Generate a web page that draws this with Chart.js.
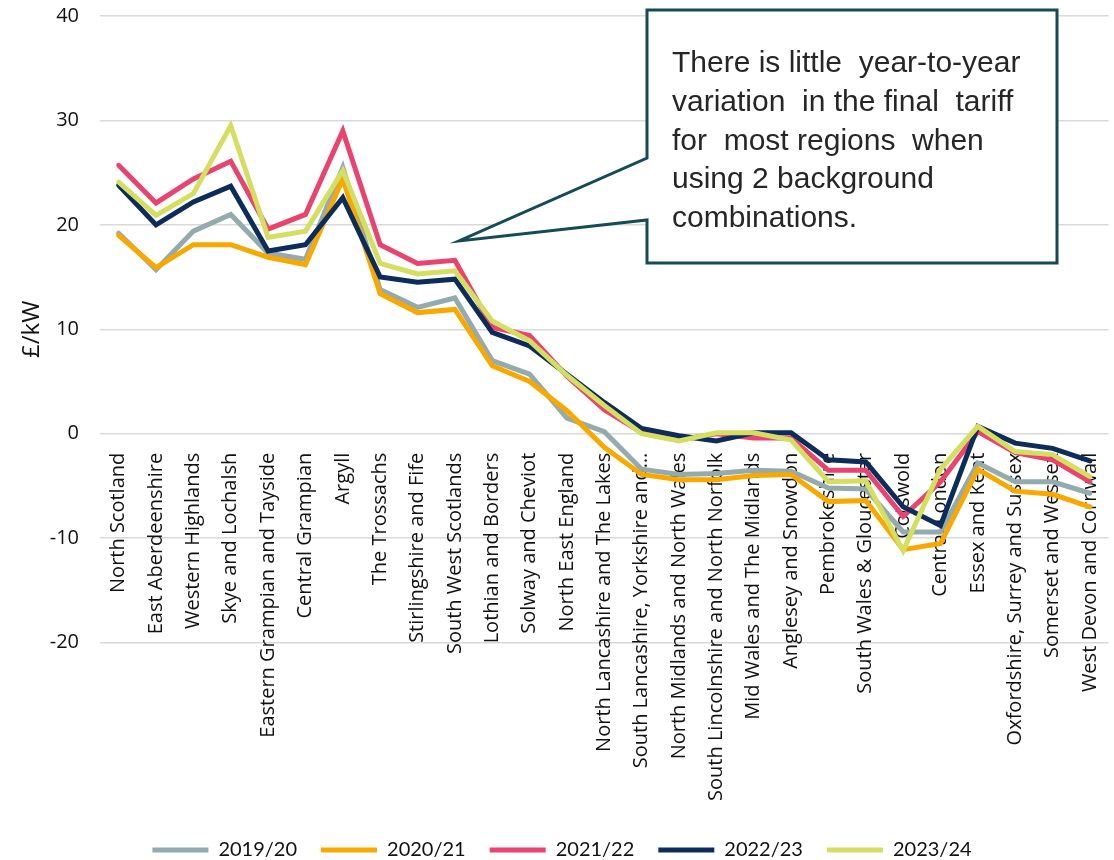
<!DOCTYPE html>
<html>
<head>
<meta charset="utf-8">
<script src="https://cdn.jsdelivr.net/npm/chart.js@4"></script>
<style>
  html, body { margin: 0; padding: 0; background: #fff; }
  #wrap { width: 1114px; height: 860px; }
</style>
</head>
<body>
<div id="wrap"><canvas id="tariffChart"></canvas></div>
<script>
// regions along the x axis
const regions = [
    "North Scotland", "East Aberdeenshire", "Western Highlands", "Skye and Lochalsh",
    "Eastern Grampian and Tayside", "Central Grampian", "Argyll", "The Trossachs",
    "Stirlingshire and Fife", "South West Scotlands", "Lothian and Borders",
    "Solway and Cheviot", "North East England", "North Lancashire and The Lakes",
    "South Lancashire, Yorkshire and\u2026", "North Midlands and North Wales",
    "South Lincolnshire and North Norfolk", "Mid Wales and The Midlands",
    "Anglesey and Snowdon", "Pembrokeshire", "South Wales & Gloucester", "Cotswold",
    "Central London", "Essex and Kent", "Oxfordshire, Surrey and Sussex",
    "Somerset and Wessex", "West Devon and Cornwall"
];

// £/kW per region, one array per charging year
const y2019 = [19.2, 15.7, 19.4, 21.0, 17.3, 16.7, 25.5, 13.8, 12.1, 13.0, 7.0, 5.7, 1.5, 0.2,
    -3.4, -3.9, -3.8, -3.5, -3.6, -5.2, -5.3, -9.4, -9.4, -2.8, -4.6, -4.6, -5.7];
const y2020 = [19.0, 15.9, 18.1, 18.1, 16.9, 16.2, 24.4, 13.4, 11.6, 11.9, 6.5, 5.0, 2.2, -1.3,
    -3.9, -4.4, -4.4, -4.0, -3.9, -6.5, -6.4, -11.1, -10.5, -3.4, -5.5, -5.8, -7.0];
const y2021 = [25.7, 22.1, 24.4, 26.1, 19.6, 21.0, 29.0, 18.1, 16.3, 16.6, 10.2, 9.4, 5.5, 2.3,
    0.1, -0.6, 0.0, -0.4, -0.4, -3.5, -3.5, -7.9, -4.6, 0.2, -1.8, -2.5, -4.6];
const y2022 = [23.8, 20.0, 22.2, 23.7, 17.5, 18.1, 22.6, 15.0, 14.5, 14.8, 9.7, 8.4, 5.7, 3.0,
    0.5, -0.2, -0.7, 0.1, 0.1, -2.5, -2.7, -7.0, -8.8, 0.7, -0.9, -1.4, -2.6];
const y2023 = [24.1, 20.9, 23.0, 29.5, 18.8, 19.4, 25.2, 16.3, 15.3, 15.6, 10.8, 8.9, 5.6, 2.7,
    0.0, -0.7, 0.1, 0.1, -0.6, -4.6, -4.5, -11.2, -3.4, 0.7, -1.7, -2.0, -4.1];

const yearLabels = ["2019/20", "2020/21", "2021/22", "2022/23", "2023/24"];
const yearColours = ["#93aaae", "#f9a800", "#e9436f", "#0c2d5c", "#d4de5f"];
const yearValues = [y2019, y2020, y2021, y2022, y2023];

const yTicks = [-20, -10, 0, 10, 20, 30, 40];

const noteLines = [
    "There is little  year-to-year",
    "variation  in the final  tariff",
    "for  most regions  when",
    "using 2 background",
    "combinations."
];

// callout box drawn on top of the chart
const calloutPlugin = {
    id: "callout",
    afterDraw(chart) {
        const ctx = chart.ctx;
        const left = 647, top = 10, right = 1057, bottom = 263;
        ctx.save();
        ctx.beginPath();
        ctx.moveTo(left, top);
        ctx.lineTo(right, top);
        ctx.lineTo(right, bottom);
        ctx.lineTo(left, bottom);
        ctx.lineTo(left, 220);
        ctx.lineTo(459, 241);
        ctx.lineTo(left, 158);
        ctx.closePath();
        ctx.fillStyle = "#ffffff";
        ctx.fill();
        ctx.lineWidth = 3;
        ctx.lineJoin = "miter";
        ctx.strokeStyle = "#154b57";
        ctx.stroke();

        ctx.fillStyle = "#262626";
        ctx.font = "30px 'Liberation Sans', Arial, sans-serif";
        ctx.textBaseline = "alphabetic";
        ctx.textAlign = "left";
        noteLines.forEach((line, i) => {
            ctx.fillText(line, 672, 72 + i * 38.8);
        });
        ctx.restore();
    }
};

const ctx = document.getElementById("tariffChart").getContext("2d");
new Chart(ctx, {
    type: "line",
    data: {
        labels: regions,
        datasets: yearLabels.map((label, i) => ({
            label: label,
            data: yearValues[i],
            borderColor: yearColours[i],
            backgroundColor: yearColours[i],
            borderWidth: 5,
            pointRadius: 0,
            tension: 0,
            fill: false,
            borderCapStyle: "round",
            order: yearLabels.length - i
        }))
    },
    options: {
        responsive: true,
        maintainAspectRatio: false,
        animation: false,
        layout: { padding: { top: 16, right: 4, left: 14, bottom: -10 } },
        plugins: {
            tooltip: { enabled: false },
            legend: {
                position: "bottom",
                title: { display: true, text: "", padding: { top: 159, bottom: 0 } },
                labels: {
                    usePointStyle: true,
                    pointStyle: "line",
                    pointStyleWidth: 56,
                    padding: 24,
                    color: "#111",
                    font: { family: "Lato", size: 20 },
                    sort: (a, b) => a.datasetIndex - b.datasetIndex
                }
            }
        },
        scales: {
            x: {
                position: { y: 0 },
                offset: true,
                grid: {
                    display: true,
                    drawOnChartArea: false,
                    drawTicks: true,
                    tickLength: 19,
                    tickColor: "rgba(0,0,0,0)"
                },
                border: { display: false },
                ticks: {
                    autoSkip: false,
                    maxRotation: 90,
                    minRotation: 90,
                    padding: 0,
                    color: "#111",
                    font: { family: "'Open Sans'", size: 20 }
                }
            },
            y: {
                min: -20,
                max: 40,
                afterBuildTicks: axis => { axis.ticks = yTicks.map(v => ({ value: v })); },
                afterFit: axis => { axis.width = 86; },
                grid: {
                    color: "#d9d9d9",
                    lineWidth: 1.5,
                    drawTicks: true,
                    tickLength: 17,
                    tickColor: "rgba(0,0,0,0)"
                },
                border: { display: false },
                ticks: {
                    padding: 4,
                    color: "#111",
                    font: { family: "'Open Sans'", size: 20 }
                },
                title: {
                    display: true,
                    text: "£/kW",
                    color: "#111",
                    padding: { top: 4, bottom: 0 },
                    font: { family: "'Open Sans'", size: 24 }
                }
            }
        }
    },
    plugins: [calloutPlugin]
});
</script>
</body>
</html>
